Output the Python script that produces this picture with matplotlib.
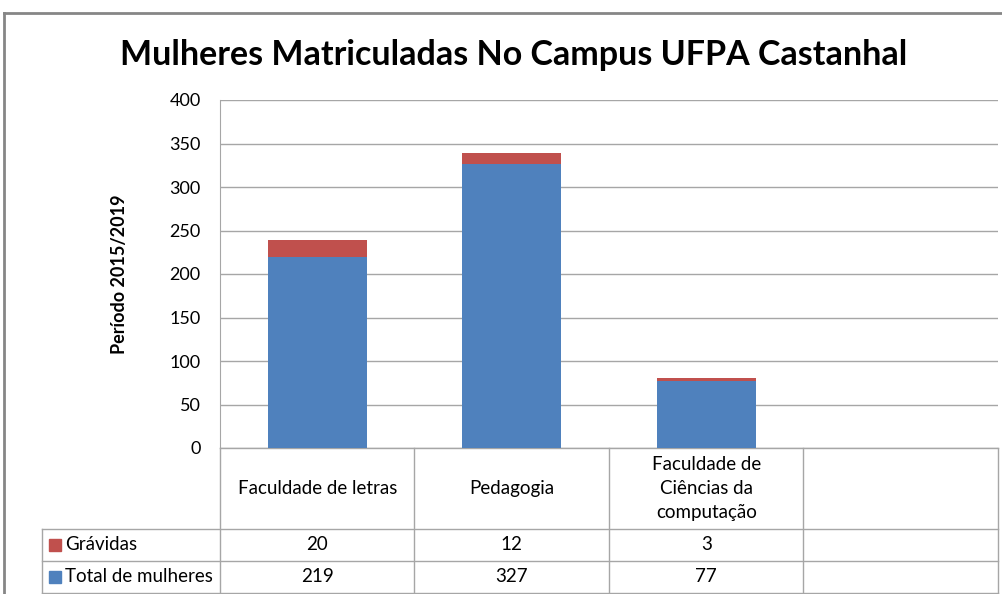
import matplotlib.pyplot as plt
import matplotlib.transforms as mtransforms
from matplotlib.lines import Line2D
import numpy as np

plt.rcParams['font.family'] = ['Lato', 'DejaVu Sans']

# dados
categorias = ['Faculdade de letras', 'Pedagogia', 'Faculdade de\nCiências da\ncomputação', '']
total_mulheres = [219, 327, 77, None]
gravidas = [20, 12, 3, None]
series_nomes = ['Grávidas', 'Total de mulheres']
cor_total = '#4F81BD'
cor_grav = '#C0504D'
cinza = '#A6A6A6'

W, H = 1003, 594
fig = plt.figure(figsize=(W / 100, H / 100), dpi=100)

def fy(py):
    return 1 - py / H

def fx(px):
    return px / W

ax = fig.add_axes([fx(220), fy(448), fx(998) - fx(220), fy(100) - fy(448)])

x = np.arange(len(categorias))
tot = [v if v is not None else 0 for v in total_mulheres]
grv = [v if v is not None else 0 for v in gravidas]
ax.bar(x, tot, width=0.51, color=cor_total, zorder=3)
ax.bar(x, grv, width=0.51, bottom=tot, color=cor_grav, zorder=3)

ax.set_xlim(-0.5, len(categorias) - 0.5)
ax.set_ylim(0, 400)
ax.set_yticks(range(0, 401, 50))
ax.tick_params(axis='y', length=0, labelsize=13, pad=14)
ax.tick_params(axis='x', length=0, labelbottom=False)
ax.yaxis.grid(True, color=cinza, linewidth=1)
ax.set_axisbelow(True)
for s in ['top', 'right', 'bottom']:
    ax.spines[s].set_visible(False)
ax.spines['left'].set_color(cinza)

ax.set_ylabel('Período 2015/2019', fontsize=13, fontweight='bold', labelpad=30)

fig.text(0.512, fy(55), 'Mulheres Matriculadas No Campus UFPA Castanhal',
         ha='center', va='center', fontsize=24.5, fontweight='bold')

# tabela de dados
tr = mtransforms.blended_transform_factory(ax.transData, fig.transFigure)
cat_px = (998 - 220) / len(categorias)
left_tab = -0.5 - (220 - 42) / cat_px
y_head, y_r1, y_r2, y_bot = fy(448), fy(529), fy(561), fy(593)
linhas = [
    ([-0.5, 3.5], [y_head, y_head]),
    ([left_tab, 3.5], [y_r1, y_r1]),
    ([left_tab, 3.5], [y_r2, y_r2]),
    ([left_tab, 3.5], [y_bot, y_bot]),
    ([left_tab, left_tab], [y_r1, y_bot]),
]
for b in np.arange(-0.5, len(categorias), 1.0):
    linhas.append(([b, b], [y_head, y_bot]))
for xs, ys in linhas:
    ax.add_line(Line2D(xs, ys, transform=tr, color=cinza, linewidth=1, clip_on=False))

for i, c in enumerate(categorias):
    ax.text(i, (y_head + y_r1) / 2, c, transform=tr, ha='center', va='center',
            fontsize=13.5, linespacing=1.5)
for vals, (ya, yb) in [(gravidas, (y_r1, y_r2)), (total_mulheres, (y_r2, y_bot))]:
    for i, v in enumerate(vals):
        if v is not None:
            ax.text(i, (ya + yb) / 2, str(v), transform=tr, ha='center', va='center', fontsize=13.5)

for nome, cor, (ya, yb) in [(series_nomes[0], cor_grav, (y_r1, y_r2)),
                             (series_nomes[1], cor_total, (y_r2, y_bot))]:
    xm = left_tab + 13 / cat_px
    ax.plot([xm], [(ya + yb) / 2], marker='s', markersize=8, color=cor,
            transform=tr, clip_on=False)
    ax.text(xm + 10 / cat_px, (ya + yb) / 2, nome, transform=tr, ha='left', va='center', fontsize=13.5)

# moldura do gráfico
fig.add_artist(Line2D([fx(4), 1], [fy(13), fy(13)], color='#868686', linewidth=2))
fig.add_artist(Line2D([fx(4), fx(4)], [fy(13), 0], color='#868686', linewidth=2))

fig.savefig('out.png', dpi=100)
